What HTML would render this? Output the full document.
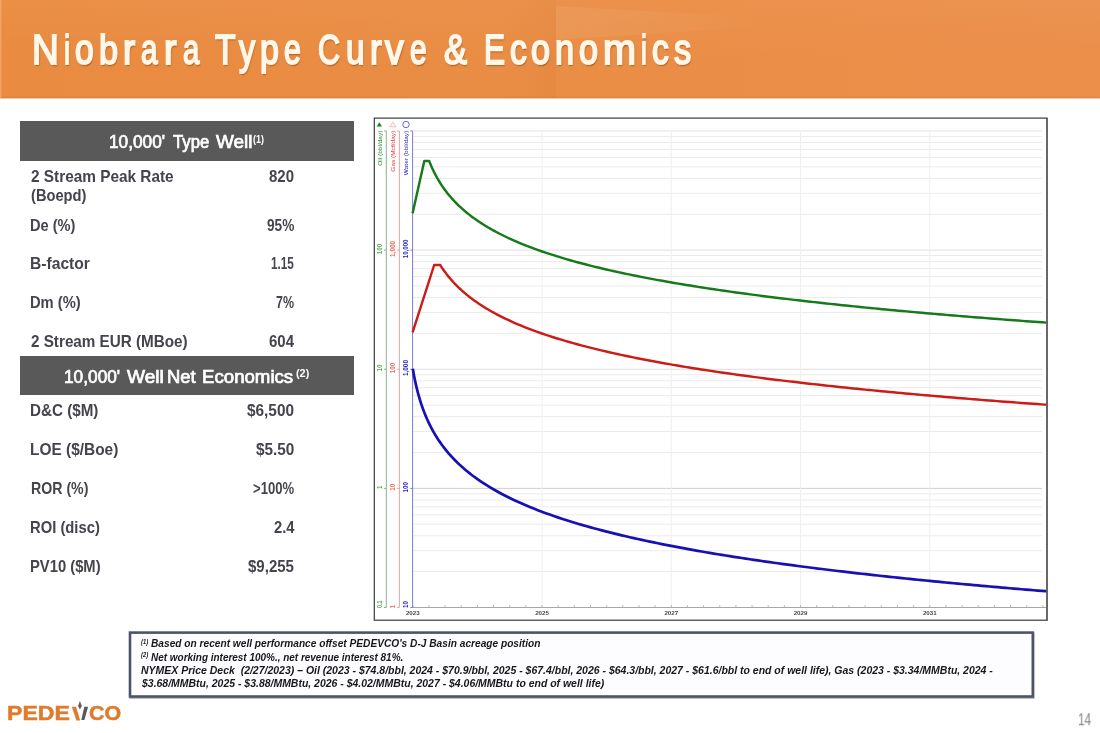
<!DOCTYPE html>
<html><head><meta charset="utf-8"><title>Niobrara Type Curve &amp; Economics</title>
<style>
html,body{margin:0;padding:0;background:#fff;}
body{width:1100px;height:733px;position:relative;overflow:hidden;font-family:"Liberation Sans", sans-serif;}
.t{position:absolute;white-space:pre;transform-origin:0 0;font-family:"Liberation Sans", sans-serif;}
.hdr{position:absolute;left:0;top:0;width:1100px;height:98px;background:linear-gradient(to bottom,rgba(255,255,255,.035),rgba(255,255,255,0) 60%),linear-gradient(to right,#e98b40 0%,#ea8d45 50%,#eb8f4b 100%);overflow:hidden;}
.hdr i{position:absolute;display:block;}
.gb{position:absolute;left:20px;width:334px;background:#595959;}
.fn{position:absolute;left:128.7px;top:631.2px;width:900.4px;height:61.8px;border:2.5px solid #4d536b;background:#fdfdff;box-shadow:0.5px 1.5px 1.5px rgba(60,60,90,.45);}
</style></head><body>
<div id="slide" style="position:absolute;left:0;top:0;width:1100px;height:733px;will-change:transform;">
<div class="hdr"><i style="left:0;top:95.5px;width:1100px;height:2.5px;background:linear-gradient(rgba(170,110,60,0),rgba(170,110,60,.28))"></i><i style="left:0;top:0;width:2px;height:98px;background:linear-gradient(to right,rgba(255,200,150,.55),rgba(255,200,150,0))"></i><i style="left:556px;top:6px;width:210px;height:34px;background:linear-gradient(to right,rgba(255,255,255,.07),rgba(255,255,255,.05) 40%,rgba(255,255,255,0));clip-path:polygon(0 0,100% 35%,100% 60%,0 100%)"></i><i style="left:0;top:0;width:556px;height:98px;background:linear-gradient(to right,rgba(120,50,0,0) 90%,rgba(120,50,0,.035))"></i></div>
<div style="position:absolute;left:0;top:98px;width:1100px;height:1px;background:#f4c8a6"></div>
<div class="gb" style="top:121px;height:40px"></div>
<div class="gb" style="top:356px;height:39px"></div>
<svg class="chart" width="1100" height="733" viewBox="0 0 1100 733" style="position:absolute;left:0;top:0">
<rect x="374.3" y="118.1" width="672.7" height="502.1" fill="#fff" stroke="#3a3a3a" stroke-width="1.2"/>
<line x1="412.5" y1="571.64" x2="1042.0" y2="571.64" stroke="#ebebeb" stroke-width="1"/>
<line x1="412.5" y1="550.66" x2="1042.0" y2="550.66" stroke="#ebebeb" stroke-width="1"/>
<line x1="412.5" y1="535.78" x2="1042.0" y2="535.78" stroke="#ebebeb" stroke-width="1"/>
<line x1="412.5" y1="524.24" x2="1042.0" y2="524.24" stroke="#ebebeb" stroke-width="1"/>
<line x1="412.5" y1="514.80" x2="1042.0" y2="514.80" stroke="#ebebeb" stroke-width="1"/>
<line x1="412.5" y1="506.83" x2="1042.0" y2="506.83" stroke="#ebebeb" stroke-width="1"/>
<line x1="412.5" y1="499.92" x2="1042.0" y2="499.92" stroke="#ebebeb" stroke-width="1"/>
<line x1="412.5" y1="493.83" x2="1042.0" y2="493.83" stroke="#ebebeb" stroke-width="1"/>
<line x1="412.5" y1="452.51" x2="1042.0" y2="452.51" stroke="#ebebeb" stroke-width="1"/>
<line x1="412.5" y1="431.54" x2="1042.0" y2="431.54" stroke="#ebebeb" stroke-width="1"/>
<line x1="412.5" y1="416.65" x2="1042.0" y2="416.65" stroke="#ebebeb" stroke-width="1"/>
<line x1="412.5" y1="405.11" x2="1042.0" y2="405.11" stroke="#ebebeb" stroke-width="1"/>
<line x1="412.5" y1="395.68" x2="1042.0" y2="395.68" stroke="#ebebeb" stroke-width="1"/>
<line x1="412.5" y1="387.70" x2="1042.0" y2="387.70" stroke="#ebebeb" stroke-width="1"/>
<line x1="412.5" y1="380.79" x2="1042.0" y2="380.79" stroke="#ebebeb" stroke-width="1"/>
<line x1="412.5" y1="374.70" x2="1042.0" y2="374.70" stroke="#ebebeb" stroke-width="1"/>
<line x1="412.5" y1="333.39" x2="1042.0" y2="333.39" stroke="#ebebeb" stroke-width="1"/>
<line x1="412.5" y1="312.41" x2="1042.0" y2="312.41" stroke="#ebebeb" stroke-width="1"/>
<line x1="412.5" y1="297.53" x2="1042.0" y2="297.53" stroke="#ebebeb" stroke-width="1"/>
<line x1="412.5" y1="285.99" x2="1042.0" y2="285.99" stroke="#ebebeb" stroke-width="1"/>
<line x1="412.5" y1="276.55" x2="1042.0" y2="276.55" stroke="#ebebeb" stroke-width="1"/>
<line x1="412.5" y1="268.58" x2="1042.0" y2="268.58" stroke="#ebebeb" stroke-width="1"/>
<line x1="412.5" y1="261.67" x2="1042.0" y2="261.67" stroke="#ebebeb" stroke-width="1"/>
<line x1="412.5" y1="255.58" x2="1042.0" y2="255.58" stroke="#ebebeb" stroke-width="1"/>
<line x1="412.5" y1="214.26" x2="1042.0" y2="214.26" stroke="#ebebeb" stroke-width="1"/>
<line x1="412.5" y1="193.29" x2="1042.0" y2="193.29" stroke="#ebebeb" stroke-width="1"/>
<line x1="412.5" y1="178.40" x2="1042.0" y2="178.40" stroke="#ebebeb" stroke-width="1"/>
<line x1="412.5" y1="166.86" x2="1042.0" y2="166.86" stroke="#ebebeb" stroke-width="1"/>
<line x1="412.5" y1="157.43" x2="1042.0" y2="157.43" stroke="#ebebeb" stroke-width="1"/>
<line x1="412.5" y1="149.45" x2="1042.0" y2="149.45" stroke="#ebebeb" stroke-width="1"/>
<line x1="412.5" y1="142.54" x2="1042.0" y2="142.54" stroke="#ebebeb" stroke-width="1"/>
<line x1="412.5" y1="136.45" x2="1042.0" y2="136.45" stroke="#ebebeb" stroke-width="1"/>
<line x1="412.5" y1="488.38" x2="1042.0" y2="488.38" stroke="#cfcfcf" stroke-width="1"/>
<line x1="412.5" y1="369.25" x2="1042.0" y2="369.25" stroke="#dedede" stroke-width="1"/>
<line x1="412.5" y1="250.12" x2="1042.0" y2="250.12" stroke="#e0e0e0" stroke-width="1"/>
<line x1="412.5" y1="131.00" x2="1042.0" y2="131.00" stroke="#e2e2e2" stroke-width="1"/>
<line x1="542.04" y1="131.0" x2="542.04" y2="607.5" stroke="#efefef" stroke-width="1"/>
<line x1="671.28" y1="131.0" x2="671.28" y2="607.5" stroke="#efefef" stroke-width="1"/>
<line x1="800.52" y1="131.0" x2="800.52" y2="607.5" stroke="#efefef" stroke-width="1"/>
<line x1="929.76" y1="131.0" x2="929.76" y2="607.5" stroke="#efefef" stroke-width="1"/>
<line x1="412.5" y1="607.5" x2="1046.5" y2="607.5" stroke="#a6a6a6" stroke-width="1"/>
<line x1="412.80" y1="605.0" x2="412.80" y2="607.5" stroke="#ababab" stroke-width="0.8"/>
<line x1="428.96" y1="605.0" x2="428.96" y2="607.5" stroke="#ababab" stroke-width="0.8"/>
<line x1="445.11" y1="605.0" x2="445.11" y2="607.5" stroke="#ababab" stroke-width="0.8"/>
<line x1="461.26" y1="605.0" x2="461.26" y2="607.5" stroke="#ababab" stroke-width="0.8"/>
<line x1="477.42" y1="605.0" x2="477.42" y2="607.5" stroke="#ababab" stroke-width="0.8"/>
<line x1="493.57" y1="605.0" x2="493.57" y2="607.5" stroke="#ababab" stroke-width="0.8"/>
<line x1="509.73" y1="605.0" x2="509.73" y2="607.5" stroke="#ababab" stroke-width="0.8"/>
<line x1="525.88" y1="605.0" x2="525.88" y2="607.5" stroke="#ababab" stroke-width="0.8"/>
<line x1="542.04" y1="605.0" x2="542.04" y2="607.5" stroke="#ababab" stroke-width="0.8"/>
<line x1="558.19" y1="605.0" x2="558.19" y2="607.5" stroke="#ababab" stroke-width="0.8"/>
<line x1="574.35" y1="605.0" x2="574.35" y2="607.5" stroke="#ababab" stroke-width="0.8"/>
<line x1="590.50" y1="605.0" x2="590.50" y2="607.5" stroke="#ababab" stroke-width="0.8"/>
<line x1="606.66" y1="605.0" x2="606.66" y2="607.5" stroke="#ababab" stroke-width="0.8"/>
<line x1="622.81" y1="605.0" x2="622.81" y2="607.5" stroke="#ababab" stroke-width="0.8"/>
<line x1="638.97" y1="605.0" x2="638.97" y2="607.5" stroke="#ababab" stroke-width="0.8"/>
<line x1="655.12" y1="605.0" x2="655.12" y2="607.5" stroke="#ababab" stroke-width="0.8"/>
<line x1="671.28" y1="605.0" x2="671.28" y2="607.5" stroke="#ababab" stroke-width="0.8"/>
<line x1="687.43" y1="605.0" x2="687.43" y2="607.5" stroke="#ababab" stroke-width="0.8"/>
<line x1="703.59" y1="605.0" x2="703.59" y2="607.5" stroke="#ababab" stroke-width="0.8"/>
<line x1="719.74" y1="605.0" x2="719.74" y2="607.5" stroke="#ababab" stroke-width="0.8"/>
<line x1="735.90" y1="605.0" x2="735.90" y2="607.5" stroke="#ababab" stroke-width="0.8"/>
<line x1="752.05" y1="605.0" x2="752.05" y2="607.5" stroke="#ababab" stroke-width="0.8"/>
<line x1="768.21" y1="605.0" x2="768.21" y2="607.5" stroke="#ababab" stroke-width="0.8"/>
<line x1="784.36" y1="605.0" x2="784.36" y2="607.5" stroke="#ababab" stroke-width="0.8"/>
<line x1="800.52" y1="605.0" x2="800.52" y2="607.5" stroke="#ababab" stroke-width="0.8"/>
<line x1="816.67" y1="605.0" x2="816.67" y2="607.5" stroke="#ababab" stroke-width="0.8"/>
<line x1="832.83" y1="605.0" x2="832.83" y2="607.5" stroke="#ababab" stroke-width="0.8"/>
<line x1="848.98" y1="605.0" x2="848.98" y2="607.5" stroke="#ababab" stroke-width="0.8"/>
<line x1="865.14" y1="605.0" x2="865.14" y2="607.5" stroke="#ababab" stroke-width="0.8"/>
<line x1="881.29" y1="605.0" x2="881.29" y2="607.5" stroke="#ababab" stroke-width="0.8"/>
<line x1="897.45" y1="605.0" x2="897.45" y2="607.5" stroke="#ababab" stroke-width="0.8"/>
<line x1="913.60" y1="605.0" x2="913.60" y2="607.5" stroke="#ababab" stroke-width="0.8"/>
<line x1="929.76" y1="605.0" x2="929.76" y2="607.5" stroke="#ababab" stroke-width="0.8"/>
<line x1="945.91" y1="605.0" x2="945.91" y2="607.5" stroke="#ababab" stroke-width="0.8"/>
<line x1="962.07" y1="605.0" x2="962.07" y2="607.5" stroke="#ababab" stroke-width="0.8"/>
<line x1="978.22" y1="605.0" x2="978.22" y2="607.5" stroke="#ababab" stroke-width="0.8"/>
<line x1="994.38" y1="605.0" x2="994.38" y2="607.5" stroke="#ababab" stroke-width="0.8"/>
<line x1="1010.53" y1="605.0" x2="1010.53" y2="607.5" stroke="#ababab" stroke-width="0.8"/>
<line x1="1026.69" y1="605.0" x2="1026.69" y2="607.5" stroke="#ababab" stroke-width="0.8"/>
<line x1="1042.84" y1="605.0" x2="1042.84" y2="607.5" stroke="#ababab" stroke-width="0.8"/>
<text x="412.80" y="614.9" font-size="6.2" font-weight="bold" text-anchor="middle" fill="#4a4a4a" font-family='"Liberation Sans", sans-serif'>2023</text>
<text x="542.04" y="614.9" font-size="6.2" font-weight="bold" text-anchor="middle" fill="#4a4a4a" font-family='"Liberation Sans", sans-serif'>2025</text>
<text x="671.28" y="614.9" font-size="6.2" font-weight="bold" text-anchor="middle" fill="#4a4a4a" font-family='"Liberation Sans", sans-serif'>2027</text>
<text x="800.52" y="614.9" font-size="6.2" font-weight="bold" text-anchor="middle" fill="#4a4a4a" font-family='"Liberation Sans", sans-serif'>2029</text>
<text x="929.76" y="614.9" font-size="6.2" font-weight="bold" text-anchor="middle" fill="#4a4a4a" font-family='"Liberation Sans", sans-serif'>2031</text>
<line x1="386.3" y1="131.0" x2="386.3" y2="607.5" stroke="#8fae8f" stroke-width="1"/>
<line x1="384.0" y1="607.50" x2="386.3" y2="607.50" stroke="#8fae8f" stroke-width="1"/>
<line x1="384.0" y1="488.38" x2="386.3" y2="488.38" stroke="#8fae8f" stroke-width="1"/>
<line x1="384.0" y1="369.25" x2="386.3" y2="369.25" stroke="#8fae8f" stroke-width="1"/>
<line x1="384.0" y1="250.12" x2="386.3" y2="250.12" stroke="#8fae8f" stroke-width="1"/>
<line x1="384.0" y1="131.00" x2="386.3" y2="131.00" stroke="#8fae8f" stroke-width="1"/>
<text transform="translate(381.8,130.7) rotate(-90)" font-size="6.2" text-anchor="end" textLength="35" lengthAdjust="spacingAndGlyphs" fill="#1f8a1f" font-family='"Liberation Sans", sans-serif'>Oil (bbl/day)</text>
<text transform="translate(381.6,608.0) rotate(-90)" font-size="6.8" font-weight="bold" text-anchor="start" textLength="7.5" lengthAdjust="spacingAndGlyphs" fill="#4fae4f" font-family='"Liberation Sans", sans-serif'>0.1</text>
<text transform="translate(381.6,485.675) rotate(-90)" font-size="6.8" font-weight="bold" text-anchor="end" textLength="3" lengthAdjust="spacingAndGlyphs" fill="#4fae4f" font-family='"Liberation Sans", sans-serif'>1</text>
<text transform="translate(381.6,364.55) rotate(-90)" font-size="6.8" font-weight="bold" text-anchor="end" textLength="7" lengthAdjust="spacingAndGlyphs" fill="#4fae4f" font-family='"Liberation Sans", sans-serif'>10</text>
<text transform="translate(381.6,243.675) rotate(-90)" font-size="6.8" font-weight="bold" text-anchor="end" textLength="10.5" lengthAdjust="spacingAndGlyphs" fill="#4fae4f" font-family='"Liberation Sans", sans-serif'>100</text>
<line x1="399.4" y1="131.0" x2="399.4" y2="607.5" stroke="#eea0a0" stroke-width="1"/>
<line x1="397.09999999999997" y1="607.50" x2="399.4" y2="607.50" stroke="#eea0a0" stroke-width="1"/>
<line x1="397.09999999999997" y1="488.38" x2="399.4" y2="488.38" stroke="#eea0a0" stroke-width="1"/>
<line x1="397.09999999999997" y1="369.25" x2="399.4" y2="369.25" stroke="#eea0a0" stroke-width="1"/>
<line x1="397.09999999999997" y1="250.12" x2="399.4" y2="250.12" stroke="#eea0a0" stroke-width="1"/>
<line x1="397.09999999999997" y1="131.00" x2="399.4" y2="131.00" stroke="#eea0a0" stroke-width="1"/>
<text transform="translate(394.9,130.7) rotate(-90)" font-size="6.2" text-anchor="end" textLength="41" lengthAdjust="spacingAndGlyphs" fill="#e23030" font-family='"Liberation Sans", sans-serif'>Gas (Mcf/day)</text>
<text transform="translate(394.7,608.0) rotate(-90)" font-size="6.8" font-weight="bold" text-anchor="start" textLength="3" lengthAdjust="spacingAndGlyphs" fill="#f06454" font-family='"Liberation Sans", sans-serif'>1</text>
<text transform="translate(394.7,483.675) rotate(-90)" font-size="6.8" font-weight="bold" text-anchor="end" textLength="7" lengthAdjust="spacingAndGlyphs" fill="#f06454" font-family='"Liberation Sans", sans-serif'>10</text>
<text transform="translate(394.7,362.8) rotate(-90)" font-size="6.8" font-weight="bold" text-anchor="end" textLength="10.5" lengthAdjust="spacingAndGlyphs" fill="#f06454" font-family='"Liberation Sans", sans-serif'>100</text>
<text transform="translate(394.7,240.925) rotate(-90)" font-size="6.8" font-weight="bold" text-anchor="end" textLength="16" lengthAdjust="spacingAndGlyphs" fill="#f06454" font-family='"Liberation Sans", sans-serif'>1,000</text>
<line x1="412.6" y1="131.0" x2="412.6" y2="607.5" stroke="#7a7ad0" stroke-width="1"/>
<line x1="410.3" y1="607.50" x2="412.6" y2="607.50" stroke="#7a7ad0" stroke-width="1"/>
<line x1="410.3" y1="488.38" x2="412.6" y2="488.38" stroke="#7a7ad0" stroke-width="1"/>
<line x1="410.3" y1="369.25" x2="412.6" y2="369.25" stroke="#7a7ad0" stroke-width="1"/>
<line x1="410.3" y1="250.12" x2="412.6" y2="250.12" stroke="#7a7ad0" stroke-width="1"/>
<line x1="410.3" y1="131.00" x2="412.6" y2="131.00" stroke="#7a7ad0" stroke-width="1"/>
<text transform="translate(408.2,130.7) rotate(-90)" font-size="6.2" text-anchor="end" textLength="44.5" lengthAdjust="spacingAndGlyphs" fill="#1c1cc8" font-family='"Liberation Sans", sans-serif'>Water (bbl/day)</text>
<text transform="translate(408.0,608.0) rotate(-90)" font-size="6.8" font-weight="bold" text-anchor="start" textLength="7" lengthAdjust="spacingAndGlyphs" fill="#2222d0" font-family='"Liberation Sans", sans-serif'>10</text>
<text transform="translate(408.0,481.925) rotate(-90)" font-size="6.8" font-weight="bold" text-anchor="end" textLength="10.5" lengthAdjust="spacingAndGlyphs" fill="#2222d0" font-family='"Liberation Sans", sans-serif'>100</text>
<text transform="translate(408.0,360.05) rotate(-90)" font-size="6.8" font-weight="bold" text-anchor="end" textLength="16" lengthAdjust="spacingAndGlyphs" fill="#2222d0" font-family='"Liberation Sans", sans-serif'>1,000</text>
<text transform="translate(408.0,239.57500000000002) rotate(-90)" font-size="6.8" font-weight="bold" text-anchor="end" textLength="18.7" lengthAdjust="spacingAndGlyphs" fill="#2222d0" font-family='"Liberation Sans", sans-serif'>10,000</text>
<rect x="130.6" y="633.8" width="902.8" height="63.9" fill="none" stroke="rgba(70,72,105,.38)" stroke-width="2.6"/>
<rect x="130.0" y="632.6" width="902.8" height="63.9" fill="#fdfdff" stroke="#4d536b" stroke-width="2.6"/>
<path d="M376.6 126.6 L382.0 126.6 L379.3 122.3 Z" fill="#168a16"/>
<path d="M389.9 126.8 L395.9 126.8 L392.9 122.2 Z" fill="none" stroke="#f0a8a8" stroke-width="0.8"/>
<circle cx="406" cy="124.5" r="3.2" fill="none" stroke="#5656cc" stroke-width="0.9"/>
<path d="M412.60 213.30 L424.30 161.00 L429.20 161.00 L430.20 163.51 L431.20 165.89 L432.20 168.14 L433.20 170.29 L434.20 172.34 L435.20 174.31 L436.20 176.18 L437.20 177.99 L438.20 179.72 L439.20 181.39 L440.20 183.00 L441.20 184.56 L442.20 186.06 L443.20 187.51 L444.20 188.92 L445.20 190.29 L446.20 191.61 L447.20 192.90 L448.20 194.15 L449.20 195.37 L450.20 196.56 L451.20 197.71 L452.20 198.84 L453.20 199.94 L454.20 201.01 L455.20 202.06 L456.20 203.08 L457.20 204.08 L458.20 205.06 L459.20 206.02 L460.20 206.96 L461.20 207.87 L462.20 208.77 L463.20 209.66 L464.20 210.52 L465.20 211.37 L466.20 212.21 L467.20 213.02 L468.20 213.83 L469.20 214.62 L470.20 215.39 L471.20 216.16 L472.20 216.91 L473.20 217.65 L474.20 218.37 L475.20 219.09 L476.20 219.79 L477.20 220.48 L478.20 221.16 L479.20 221.84 L480.20 222.50 L481.20 223.15 L482.20 223.79 L483.20 224.43 L484.20 225.05 L485.20 225.67 L486.20 226.28 L487.20 226.88 L488.20 227.47 L489.20 228.05 L490.20 228.63 L491.20 229.20 L492.20 229.76 L493.20 230.32 L494.20 230.87 L498.20 233.00 L502.20 235.03 L506.20 236.98 L510.20 238.84 L514.20 240.63 L518.20 242.35 L522.20 244.01 L526.20 245.61 L530.20 247.16 L534.20 248.65 L538.20 250.09 L542.20 251.49 L546.20 252.85 L550.20 254.17 L554.20 255.45 L558.20 256.70 L562.20 257.91 L566.20 259.09 L570.20 260.24 L574.20 261.36 L578.20 262.45 L582.20 263.52 L586.20 264.56 L590.20 265.58 L594.20 266.58 L598.20 267.55 L602.20 268.51 L606.20 269.44 L610.20 270.36 L614.20 271.25 L618.20 272.13 L622.20 273.00 L626.20 273.84 L630.20 274.67 L634.20 275.49 L638.20 276.29 L642.20 277.08 L646.20 277.85 L650.20 278.61 L654.20 279.36 L658.20 280.10 L662.20 280.82 L666.20 281.53 L670.20 282.23 L674.20 282.92 L678.20 283.60 L682.20 284.27 L686.20 284.93 L690.20 285.58 L694.20 286.22 L698.20 286.86 L702.20 287.48 L706.20 288.09 L710.20 288.70 L714.20 289.30 L718.20 289.89 L722.20 290.47 L726.20 291.05 L730.20 291.62 L734.20 292.18 L738.20 292.73 L742.20 293.28 L746.20 293.82 L750.20 294.36 L754.20 294.88 L758.20 295.41 L762.20 295.92 L766.20 296.43 L770.20 296.94 L774.20 297.44 L778.20 297.93 L782.20 298.42 L786.20 298.90 L790.20 299.38 L794.20 299.85 L798.20 300.32 L802.20 300.78 L806.20 301.24 L810.20 301.69 L814.20 302.14 L818.20 302.59 L822.20 303.03 L826.20 303.46 L830.20 303.89 L834.20 304.32 L838.20 304.75 L842.20 305.16 L846.20 305.58 L850.20 305.99 L854.20 306.40 L858.20 306.81 L862.20 307.21 L866.20 307.60 L870.20 308.00 L874.20 308.39 L878.20 308.78 L882.20 309.16 L886.20 309.54 L890.20 309.92 L894.20 310.29 L898.20 310.66 L902.20 311.03 L906.20 311.40 L910.20 311.76 L914.20 312.12 L918.20 312.47 L922.20 312.83 L926.20 313.18 L930.20 313.53 L934.20 313.87 L938.20 314.21 L942.20 314.56 L946.20 314.89 L950.20 315.23 L954.20 315.56 L958.20 315.89 L962.20 316.22 L966.20 316.54 L970.20 316.87 L974.20 317.19 L978.20 317.51 L982.20 317.82 L986.20 318.14 L990.20 318.45 L994.20 318.76 L998.20 319.07 L1002.20 319.37 L1006.20 319.68 L1010.20 319.98 L1014.20 320.28 L1018.20 320.57 L1022.20 320.87 L1026.20 321.16 L1030.20 321.45 L1034.20 321.74 L1038.20 322.03 L1042.20 322.32 L1046.20 322.60 L1046.50 322.62" fill="none" stroke="#167a1b" stroke-width="2.45" stroke-linejoin="round" stroke-linecap="butt"/>
<path d="M412.60 332.30 L434.20 265.00 L440.20 265.00 L441.20 266.56 L442.20 268.07 L443.20 269.52 L444.20 270.93 L445.20 272.30 L446.20 273.63 L447.20 274.92 L448.20 276.18 L449.20 277.40 L450.20 278.58 L451.20 279.74 L452.20 280.87 L453.20 281.97 L454.20 283.04 L455.20 284.09 L456.20 285.12 L457.20 286.12 L458.20 287.10 L459.20 288.06 L460.20 289.00 L461.20 289.92 L462.20 290.82 L463.20 291.71 L464.20 292.57 L465.20 293.43 L466.20 294.26 L467.20 295.08 L468.20 295.88 L469.20 296.68 L470.20 297.45 L471.20 298.22 L472.20 298.97 L473.20 299.71 L474.20 300.43 L475.20 301.15 L476.20 301.85 L477.20 302.55 L478.20 303.23 L479.20 303.90 L480.20 304.56 L481.20 305.22 L482.20 305.86 L483.20 306.49 L484.20 307.12 L485.20 307.74 L486.20 308.35 L487.20 308.95 L488.20 309.54 L489.20 310.12 L490.20 310.70 L491.20 311.27 L492.20 311.83 L493.20 312.39 L494.20 312.94 L495.20 313.48 L496.20 314.02 L497.20 314.55 L498.20 315.07 L499.20 315.59 L500.20 316.10 L501.20 316.61 L502.20 317.11 L503.20 317.60 L504.20 318.09 L505.20 318.58 L509.20 320.46 L513.20 322.27 L517.20 324.01 L521.20 325.69 L525.20 327.30 L529.20 328.86 L533.20 330.37 L537.20 331.83 L541.20 333.24 L545.20 334.61 L549.20 335.94 L553.20 337.23 L557.20 338.48 L561.20 339.70 L565.20 340.89 L569.20 342.05 L573.20 343.18 L577.20 344.28 L581.20 345.35 L585.20 346.40 L589.20 347.43 L593.20 348.43 L597.20 349.41 L601.20 350.37 L605.20 351.31 L609.20 352.23 L613.20 353.13 L617.20 354.01 L621.20 354.88 L625.20 355.73 L629.20 356.57 L633.20 357.39 L637.20 358.19 L641.20 358.98 L645.20 359.76 L649.20 360.52 L653.20 361.28 L657.20 362.01 L661.20 362.74 L665.20 363.46 L669.20 364.16 L673.20 364.85 L677.20 365.54 L681.20 366.21 L685.20 366.87 L689.20 367.53 L693.20 368.17 L697.20 368.80 L701.20 369.43 L705.20 370.05 L709.20 370.66 L713.20 371.26 L717.20 371.85 L721.20 372.43 L725.20 373.01 L729.20 373.58 L733.20 374.14 L737.20 374.70 L741.20 375.25 L745.20 375.79 L749.20 376.33 L753.20 376.86 L757.20 377.38 L761.20 377.90 L765.20 378.41 L769.20 378.92 L773.20 379.42 L777.20 379.91 L781.20 380.40 L785.20 380.89 L789.20 381.37 L793.20 381.84 L797.20 382.31 L801.20 382.77 L805.20 383.23 L809.20 383.69 L813.20 384.14 L817.20 384.58 L821.20 385.02 L825.20 385.46 L829.20 385.89 L833.20 386.32 L837.20 386.75 L841.20 387.17 L845.20 387.59 L849.20 388.00 L853.20 388.41 L857.20 388.81 L861.20 389.22 L865.20 389.61 L869.20 390.01 L873.20 390.40 L877.20 390.79 L881.20 391.17 L885.20 391.55 L889.20 391.93 L893.20 392.31 L897.20 392.68 L901.20 393.05 L905.20 393.41 L909.20 393.78 L913.20 394.14 L917.20 394.49 L921.20 394.85 L925.20 395.20 L929.20 395.55 L933.20 395.90 L937.20 396.24 L941.20 396.58 L945.20 396.92 L949.20 397.25 L953.20 397.59 L957.20 397.92 L961.20 398.25 L965.20 398.57 L969.20 398.90 L973.20 399.22 L977.20 399.54 L981.20 399.85 L985.20 400.17 L989.20 400.48 L993.20 400.79 L997.20 401.10 L1001.20 401.41 L1005.20 401.71 L1009.20 402.01 L1013.20 402.31 L1017.20 402.61 L1021.20 402.91 L1025.20 403.20 L1029.20 403.49 L1033.20 403.78 L1037.20 404.07 L1041.20 404.36 L1045.20 404.64 L1046.50 404.74" fill="none" stroke="#cc1c18" stroke-width="2.45" stroke-linejoin="round"/>
<path d="M412.80 368.80 L413.80 374.44 L414.80 379.52 L415.80 384.15 L416.80 388.40 L417.80 392.32 L418.80 395.97 L419.80 399.38 L420.80 402.58 L421.80 405.59 L422.80 408.43 L423.80 411.13 L424.80 413.69 L425.80 416.13 L426.80 418.46 L427.80 420.69 L428.80 422.83 L429.80 424.88 L430.80 426.86 L431.80 428.76 L432.80 430.59 L433.80 432.37 L434.80 434.08 L435.80 435.74 L436.80 437.34 L437.80 438.90 L438.80 440.41 L439.80 441.88 L440.80 443.31 L441.80 444.70 L442.80 446.06 L443.80 447.37 L444.80 448.66 L445.80 449.92 L446.80 451.14 L447.80 452.34 L448.80 453.51 L449.80 454.65 L450.80 455.77 L451.80 456.87 L452.80 457.94 L453.80 458.99 L454.80 460.02 L455.80 461.03 L456.80 462.02 L457.80 462.99 L458.80 463.95 L459.80 464.89 L460.80 465.81 L461.80 466.71 L462.80 467.60 L463.80 468.47 L464.80 469.33 L465.80 470.17 L466.80 471.01 L467.80 471.82 L468.80 472.63 L469.80 473.42 L470.80 474.20 L471.80 474.97 L472.80 475.73 L473.80 476.48 L474.80 477.21 L475.80 477.94 L476.80 478.66 L477.80 479.36 L481.80 482.10 L485.80 484.69 L489.80 487.16 L493.80 489.52 L497.80 491.78 L501.80 493.94 L505.80 496.01 L509.80 498.01 L513.80 499.93 L517.80 501.78 L521.80 503.56 L525.80 505.29 L529.80 506.96 L533.80 508.58 L537.80 510.15 L541.80 511.68 L545.80 513.16 L549.80 514.60 L553.80 516.00 L557.80 517.36 L561.80 518.69 L565.80 519.98 L569.80 521.24 L573.80 522.48 L577.80 523.68 L581.80 524.86 L585.80 526.01 L589.80 527.13 L593.80 528.24 L597.80 529.31 L601.80 530.37 L605.80 531.41 L609.80 532.42 L613.80 533.42 L617.80 534.39 L621.80 535.35 L625.80 536.29 L629.80 537.22 L633.80 538.13 L637.80 539.02 L641.80 539.89 L645.80 540.76 L649.80 541.61 L653.80 542.44 L657.80 543.26 L661.80 544.07 L665.80 544.87 L669.80 545.65 L673.80 546.42 L677.80 547.18 L681.80 547.93 L685.80 548.67 L689.80 549.40 L693.80 550.12 L697.80 550.83 L701.80 551.53 L705.80 552.22 L709.80 552.90 L713.80 553.57 L717.80 554.23 L721.80 554.89 L725.80 555.54 L729.80 556.17 L733.80 556.80 L737.80 557.43 L741.80 558.04 L745.80 558.65 L749.80 559.25 L753.80 559.85 L757.80 560.44 L761.80 561.02 L765.80 561.59 L769.80 562.16 L773.80 562.72 L777.80 563.28 L781.80 563.83 L785.80 564.37 L789.80 564.91 L793.80 565.45 L797.80 565.97 L801.80 566.50 L805.80 567.01 L809.80 567.53 L813.80 568.03 L817.80 568.54 L821.80 569.03 L825.80 569.53 L829.80 570.01 L833.80 570.50 L837.80 570.98 L841.80 571.45 L845.80 571.92 L849.80 572.39 L853.80 572.85 L857.80 573.31 L861.80 573.76 L865.80 574.21 L869.80 574.65 L873.80 575.10 L877.80 575.53 L881.80 575.97 L885.80 576.40 L889.80 576.83 L893.80 577.25 L897.80 577.67 L901.80 578.09 L905.80 578.50 L909.80 578.91 L913.80 579.32 L917.80 579.72 L921.80 580.13 L925.80 580.52 L929.80 580.92 L933.80 581.31 L937.80 581.70 L941.80 582.08 L945.80 582.47 L949.80 582.85 L953.80 583.23 L957.80 583.60 L961.80 583.97 L965.80 584.34 L969.80 584.71 L973.80 585.07 L977.80 585.43 L981.80 585.79 L985.80 586.15 L989.80 586.50 L993.80 586.86 L997.80 587.21 L1001.80 587.55 L1005.80 587.90 L1009.80 588.24 L1013.80 588.58 L1017.80 588.92 L1021.80 589.25 L1025.80 589.59 L1029.80 589.92 L1033.80 590.25 L1037.80 590.57 L1041.80 590.90 L1045.80 591.22 L1046.50 591.28" fill="none" stroke="#1810b4" stroke-width="2.7" stroke-linejoin="round"/>
<line x1="1047" y1="118" x2="1047" y2="620.8" stroke="#555" stroke-width="1.2"/>
</svg>
<svg width="20" height="22" viewBox="0 0 20 22" style="position:absolute;left:70px;top:700px"><path d="M1.8 6.8 L6.1 6.8 L10.2 20.4 L6.4 20.4 Z" fill="#e07a2c"/><path d="M14.3 6.8 L18.1 6.8 L14.4 20.1 L11.3 20.1 Z" fill="#5b5560"/><path d="M9.9 1.0 L11.9 6.0 L9.9 9.6 L8.0 6.0 Z" fill="#6a5a5c"/></svg>
<div class="t" style="left:31.85px;top:26.00px;font-size:42.2px;line-height:47px;font-weight:normal;font-style:normal;color:#fff7ea;transform:scaleX(0.8820);-webkit-text-stroke:1.9px #fff7ea;text-shadow:1px 1.6px 1.6px rgba(140,65,5,.62);">N</div>
<div class="t" style="left:64.00px;top:26.00px;font-size:42.2px;line-height:47px;font-weight:normal;font-style:normal;color:#fff7ea;transform:scale(0.6500,0.965);transform-origin:0 38px;-webkit-text-stroke:1.9px #fff7ea;text-shadow:1px 1.6px 1.6px rgba(140,65,5,.62);">i</div>
<div class="t" style="left:74.90px;top:26.00px;font-size:42.2px;line-height:47px;font-weight:normal;font-style:normal;color:#fff7ea;transform:scaleX(0.7976);-webkit-text-stroke:1.9px #fff7ea;text-shadow:1px 1.6px 1.6px rgba(140,65,5,.62);">o</div>
<div class="t" style="left:98.67px;top:26.00px;font-size:42.2px;line-height:47px;font-weight:normal;font-style:normal;color:#fff7ea;transform:scale(0.8175,0.965);transform-origin:0 38px;-webkit-text-stroke:1.9px #fff7ea;text-shadow:1px 1.6px 1.6px rgba(140,65,5,.62);">b</div>
<div class="t" style="left:122.68px;top:26.00px;font-size:42.2px;line-height:47px;font-weight:normal;font-style:normal;color:#fff7ea;transform:scaleX(0.8625);-webkit-text-stroke:1.9px #fff7ea;text-shadow:1px 1.6px 1.6px rgba(140,65,5,.62);">r</div>
<div class="t" style="left:140.69px;top:26.00px;font-size:42.2px;line-height:47px;font-weight:normal;font-style:normal;color:#fff7ea;transform:scaleX(0.7065);-webkit-text-stroke:1.9px #fff7ea;text-shadow:1px 1.6px 1.6px rgba(140,65,5,.62);">a</div>
<div class="t" style="left:163.71px;top:26.00px;font-size:42.2px;line-height:47px;font-weight:normal;font-style:normal;color:#fff7ea;transform:scaleX(0.8958);-webkit-text-stroke:1.9px #fff7ea;text-shadow:1px 1.6px 1.6px rgba(140,65,5,.62);">r</div>
<div class="t" style="left:182.70px;top:26.00px;font-size:42.2px;line-height:47px;font-weight:normal;font-style:normal;color:#fff7ea;transform:scaleX(0.6978);-webkit-text-stroke:1.9px #fff7ea;text-shadow:1px 1.6px 1.6px rgba(140,65,5,.62);">a</div>
<div class="t" style="left:215.20px;top:26.00px;font-size:42.2px;line-height:47px;font-weight:normal;font-style:normal;color:#fff7ea;transform:scaleX(0.7980);-webkit-text-stroke:1.9px #fff7ea;text-shadow:1px 1.6px 1.6px rgba(140,65,5,.62);">T</div>
<div class="t" style="left:238.70px;top:26.00px;font-size:42.2px;line-height:47px;font-weight:normal;font-style:normal;color:#fff7ea;transform:scaleX(0.7659);-webkit-text-stroke:1.9px #fff7ea;text-shadow:1px 1.6px 1.6px rgba(140,65,5,.62);">y</div>
<div class="t" style="left:260.28px;top:26.00px;font-size:42.2px;line-height:47px;font-weight:normal;font-style:normal;color:#fff7ea;transform:scaleX(0.8075);-webkit-text-stroke:1.9px #fff7ea;text-shadow:1px 1.6px 1.6px rgba(140,65,5,.62);">p</div>
<div class="t" style="left:283.88px;top:26.00px;font-size:42.2px;line-height:47px;font-weight:normal;font-style:normal;color:#fff7ea;transform:scaleX(0.7167);-webkit-text-stroke:1.9px #fff7ea;text-shadow:1px 1.6px 1.6px rgba(140,65,5,.62);">e</div>
<div class="t" style="left:317.55px;top:26.00px;font-size:42.2px;line-height:47px;font-weight:normal;font-style:normal;color:#fff7ea;transform:scaleX(0.7241);-webkit-text-stroke:1.9px #fff7ea;text-shadow:1px 1.6px 1.6px rgba(140,65,5,.62);">C</div>
<div class="t" style="left:345.72px;top:26.00px;font-size:42.2px;line-height:47px;font-weight:normal;font-style:normal;color:#fff7ea;transform:scaleX(0.7921);-webkit-text-stroke:1.9px #fff7ea;text-shadow:1px 1.6px 1.6px rgba(140,65,5,.62);">u</div>
<div class="t" style="left:369.72px;top:26.00px;font-size:42.2px;line-height:47px;font-weight:normal;font-style:normal;color:#fff7ea;transform:scaleX(0.8375);-webkit-text-stroke:1.9px #fff7ea;text-shadow:1px 1.6px 1.6px rgba(140,65,5,.62);">r</div>
<div class="t" style="left:385.40px;top:26.00px;font-size:42.2px;line-height:47px;font-weight:normal;font-style:normal;color:#fff7ea;transform:scaleX(0.8833);-webkit-text-stroke:1.9px #fff7ea;text-shadow:1px 1.6px 1.6px rgba(140,65,5,.62);">v</div>
<div class="t" style="left:409.89px;top:26.00px;font-size:42.2px;line-height:47px;font-weight:normal;font-style:normal;color:#fff7ea;transform:scaleX(0.7071);-webkit-text-stroke:1.9px #fff7ea;text-shadow:1px 1.6px 1.6px rgba(140,65,5,.62);">e</div>
<div class="t" style="left:443.58px;top:26.00px;font-size:42.2px;line-height:47px;font-weight:normal;font-style:normal;color:#fff7ea;transform:scaleX(0.8167);-webkit-text-stroke:1.9px #fff7ea;text-shadow:1px 1.6px 1.6px rgba(140,65,5,.62);">&amp;</div>
<div class="t" style="left:483.86px;top:26.00px;font-size:42.2px;line-height:47px;font-weight:normal;font-style:normal;color:#fff7ea;transform:scaleX(0.7479);-webkit-text-stroke:1.9px #fff7ea;text-shadow:1px 1.6px 1.6px rgba(140,65,5,.62);">E</div>
<div class="t" style="left:509.90px;top:26.00px;font-size:42.2px;line-height:47px;font-weight:normal;font-style:normal;color:#fff7ea;transform:scaleX(0.7974);-webkit-text-stroke:1.9px #fff7ea;text-shadow:1px 1.6px 1.6px rgba(140,65,5,.62);">c</div>
<div class="t" style="left:531.09px;top:26.00px;font-size:42.2px;line-height:47px;font-weight:normal;font-style:normal;color:#fff7ea;transform:scaleX(0.8119);-webkit-text-stroke:1.9px #fff7ea;text-shadow:1px 1.6px 1.6px rgba(140,65,5,.62);">o</div>
<div class="t" style="left:555.06px;top:26.00px;font-size:42.2px;line-height:47px;font-weight:normal;font-style:normal;color:#fff7ea;transform:scaleX(0.8184);-webkit-text-stroke:1.9px #fff7ea;text-shadow:1px 1.6px 1.6px rgba(140,65,5,.62);">n</div>
<div class="t" style="left:579.49px;top:26.00px;font-size:42.2px;line-height:47px;font-weight:normal;font-style:normal;color:#fff7ea;transform:scaleX(0.8119);-webkit-text-stroke:1.9px #fff7ea;text-shadow:1px 1.6px 1.6px rgba(140,65,5,.62);">o</div>
<div class="t" style="left:603.02px;top:26.00px;font-size:42.2px;line-height:47px;font-weight:normal;font-style:normal;color:#fff7ea;transform:scaleX(0.9403);-webkit-text-stroke:1.9px #fff7ea;text-shadow:1px 1.6px 1.6px rgba(140,65,5,.62);">m</div>
<div class="t" style="left:641.14px;top:26.00px;font-size:42.2px;line-height:47px;font-weight:normal;font-style:normal;color:#fff7ea;transform:scale(0.6300,0.965);transform-origin:0 38px;-webkit-text-stroke:1.9px #fff7ea;text-shadow:1px 1.6px 1.6px rgba(140,65,5,.62);">i</div>
<div class="t" style="left:652.30px;top:26.00px;font-size:42.2px;line-height:47px;font-weight:normal;font-style:normal;color:#fff7ea;transform:scaleX(0.7974);-webkit-text-stroke:1.9px #fff7ea;text-shadow:1px 1.6px 1.6px rgba(140,65,5,.62);">c</div>
<div class="t" style="left:673.88px;top:26.00px;font-size:42.2px;line-height:47px;font-weight:normal;font-style:normal;color:#fff7ea;transform:scaleX(0.8184);-webkit-text-stroke:1.9px #fff7ea;text-shadow:1px 1.6px 1.6px rgba(140,65,5,.62);">s</div>
<div class="t" style="left:109.12px;top:131.70px;font-size:17.7px;line-height:20px;font-weight:normal;font-style:normal;color:#ffffff;transform:scaleX(0.9751);-webkit-text-stroke:0.7px #fff;">10,000'</div>
<div class="t" style="left:172.60px;top:131.70px;font-size:17.7px;line-height:20px;font-weight:normal;font-style:normal;color:#ffffff;transform:scaleX(0.9453);-webkit-text-stroke:0.7px #fff;">Type</div>
<div class="t" style="left:215.90px;top:131.70px;font-size:17.7px;line-height:20px;font-weight:normal;font-style:normal;color:#ffffff;transform:scaleX(1.0712);-webkit-text-stroke:0.7px #fff;">Well</div>
<div class="t" style="left:253.00px;top:132.80px;font-size:10.6px;line-height:12px;font-weight:bold;font-style:normal;color:#ffffff;transform:scaleX(0.8454);">(1)</div>
<div class="t" style="left:64.12px;top:367.20px;font-size:17.7px;line-height:20px;font-weight:normal;font-style:normal;color:#ffffff;transform:scaleX(0.9768);-webkit-text-stroke:0.7px #fff;">10,000'</div>
<div class="t" style="left:126.70px;top:367.20px;font-size:17.7px;line-height:20px;font-weight:normal;font-style:normal;color:#ffffff;transform:scaleX(1.0802);-webkit-text-stroke:0.7px #fff;">Well</div>
<div class="t" style="left:167.36px;top:367.20px;font-size:17.7px;line-height:20px;font-weight:normal;font-style:normal;color:#ffffff;transform:scaleX(1.0410);-webkit-text-stroke:0.7px #fff;">Net</div>
<div class="t" style="left:202.45px;top:367.20px;font-size:17.7px;line-height:20px;font-weight:normal;font-style:normal;color:#ffffff;transform:scaleX(1.0542);-webkit-text-stroke:0.7px #fff;">Economics</div>
<div class="t" style="left:295.50px;top:366.80px;font-size:11.2px;line-height:12px;font-weight:bold;font-style:normal;color:#ffffff;transform:scaleX(0.9679);">(2)</div>
<div class="t" style="left:31.40px;top:166.50px;font-size:16.1px;line-height:18px;font-weight:bold;font-style:normal;color:#44444c;transform:scaleX(0.9548);">2 Stream Peak Rate</div>
<div class="t" style="left:269.00px;top:166.50px;font-size:16.1px;line-height:18px;font-weight:bold;font-style:normal;color:#44444c;transform:scaleX(0.9293);">820</div>
<div class="t" style="left:31.40px;top:185.80px;font-size:16.1px;line-height:18px;font-weight:bold;font-style:normal;color:#44444c;transform:scaleX(0.9119);">(Boepd)</div>
<div class="t" style="left:30.49px;top:215.60px;font-size:16.1px;line-height:18px;font-weight:bold;font-style:normal;color:#44444c;transform:scaleX(0.9073);">De (%)</div>
<div class="t" style="left:267.00px;top:215.60px;font-size:16.1px;line-height:18px;font-weight:bold;font-style:normal;color:#44444c;transform:scaleX(0.8464);">95%</div>
<div class="t" style="left:30.43px;top:254.40px;font-size:16.1px;line-height:18px;font-weight:bold;font-style:normal;color:#44444c;transform:scaleX(0.9718);">B-factor</div>
<div class="t" style="left:271.17px;top:254.40px;font-size:16.1px;line-height:18px;font-weight:bold;font-style:normal;color:#44444c;transform:scaleX(0.7276);">1.15</div>
<div class="t" style="left:30.49px;top:293.30px;font-size:16.1px;line-height:18px;font-weight:bold;font-style:normal;color:#44444c;transform:scaleX(0.9136);">Dm (%)</div>
<div class="t" style="left:276.30px;top:293.30px;font-size:16.1px;line-height:18px;font-weight:bold;font-style:normal;color:#44444c;transform:scaleX(0.7712);">7%</div>
<div class="t" style="left:31.40px;top:331.90px;font-size:16.1px;line-height:18px;font-weight:bold;font-style:normal;color:#44444c;transform:scaleX(0.9468);">2 Stream EUR (MBoe)</div>
<div class="t" style="left:269.00px;top:331.90px;font-size:16.1px;line-height:18px;font-weight:bold;font-style:normal;color:#44444c;transform:scaleX(0.9293);">604</div>
<div class="t" style="left:30.46px;top:400.80px;font-size:16.1px;line-height:18px;font-weight:bold;font-style:normal;color:#44444c;transform:scaleX(0.9443);">D&amp;C ($M)</div>
<div class="t" style="left:247.00px;top:400.80px;font-size:16.1px;line-height:18px;font-weight:bold;font-style:normal;color:#44444c;transform:scaleX(0.9539);">$6,500</div>
<div class="t" style="left:30.44px;top:439.70px;font-size:16.1px;line-height:18px;font-weight:bold;font-style:normal;color:#44444c;transform:scaleX(0.9588);">LOE ($/Boe)</div>
<div class="t" style="left:255.60px;top:439.70px;font-size:16.1px;line-height:18px;font-weight:bold;font-style:normal;color:#44444c;transform:scaleX(0.9523);">$5.50</div>
<div class="t" style="left:30.52px;top:478.70px;font-size:16.1px;line-height:18px;font-weight:bold;font-style:normal;color:#44444c;transform:scaleX(0.8794);">ROR (%)</div>
<div class="t" style="left:253.20px;top:478.70px;font-size:16.1px;line-height:18px;font-weight:bold;font-style:normal;color:#44444c;transform:scaleX(0.8119);">&gt;100%</div>
<div class="t" style="left:30.48px;top:518.40px;font-size:16.1px;line-height:18px;font-weight:bold;font-style:normal;color:#44444c;transform:scaleX(0.9190);">ROI (disc)</div>
<div class="t" style="left:273.50px;top:518.40px;font-size:16.1px;line-height:18px;font-weight:bold;font-style:normal;color:#44444c;transform:scaleX(0.9143);">2.4</div>
<div class="t" style="left:30.48px;top:557.00px;font-size:16.1px;line-height:18px;font-weight:bold;font-style:normal;color:#44444c;transform:scaleX(0.9172);">PV10 ($M)</div>
<div class="t" style="left:248.00px;top:557.00px;font-size:16.1px;line-height:18px;font-weight:bold;font-style:normal;color:#44444c;transform:scaleX(0.9336);">$9,255</div>
<div class="t" style="left:140.90px;top:637.60px;font-size:7px;line-height:7px;font-weight:bold;font-style:italic;color:#16161c;transform:scaleX(0.8239);">(1)</div>
<div class="t" style="left:151.30px;top:637.30px;font-size:11px;line-height:12px;font-weight:bold;font-style:italic;color:#16161c;transform:scaleX(0.9234);">Based on recent well performance offset PEDEVCO's D-J Basin acreage position</div>
<div class="t" style="left:140.90px;top:651.20px;font-size:7px;line-height:7px;font-weight:bold;font-style:italic;color:#16161c;transform:scaleX(0.8239);">(2)</div>
<div class="t" style="left:151.30px;top:650.90px;font-size:11px;line-height:12px;font-weight:bold;font-style:italic;color:#16161c;transform:scaleX(0.9049);">Net working interest 100%., net revenue interest 81%.</div>
<div class="t" style="left:141.00px;top:664.00px;font-size:11px;line-height:12px;font-weight:bold;font-style:italic;color:#16161c;transform:scaleX(0.9530);">NYMEX Price Deck  (2/27/2023) – Oil (2023 - $74.8/bbl, 2024 - $70.9/bbl, 2025 - $67.4/bbl, 2026 - $64.3/bbl, 2027 - $61.6/bbl to end of well life), Gas (2023 - $3.34/MMBtu, 2024 -</div>
<div class="t" style="left:141.95px;top:677.10px;font-size:11px;line-height:12px;font-weight:bold;font-style:italic;color:#16161c;transform:scaleX(0.9512);">$3.68/MMBtu, 2025 - $3.88/MMBtu, 2026 - $4.02/MMBtu, 2027 - $4.06/MMBtu to end of well life)</div>
<div class="t" style="left:1078.20px;top:712.70px;font-size:12.8px;line-height:15px;font-weight:normal;font-style:normal;color:#858585;transform:scale(0.9280,1.234);transform-origin:0 12px;">14</div>
<div class="t" style="left:7.16px;top:702.30px;font-size:20.3px;line-height:22px;font-weight:bold;font-style:normal;color:#e07a2c;transform:scaleX(1.1378);-webkit-text-stroke:0.5px #e07a2c;">PEDE</div>
<div class="t" style="left:89.00px;top:702.30px;font-size:20.3px;line-height:22px;font-weight:bold;font-style:normal;color:#e07a2c;transform:scaleX(1.0558);-webkit-text-stroke:0.5px #e07a2c;">CO</div>
</div>
</body></html>
